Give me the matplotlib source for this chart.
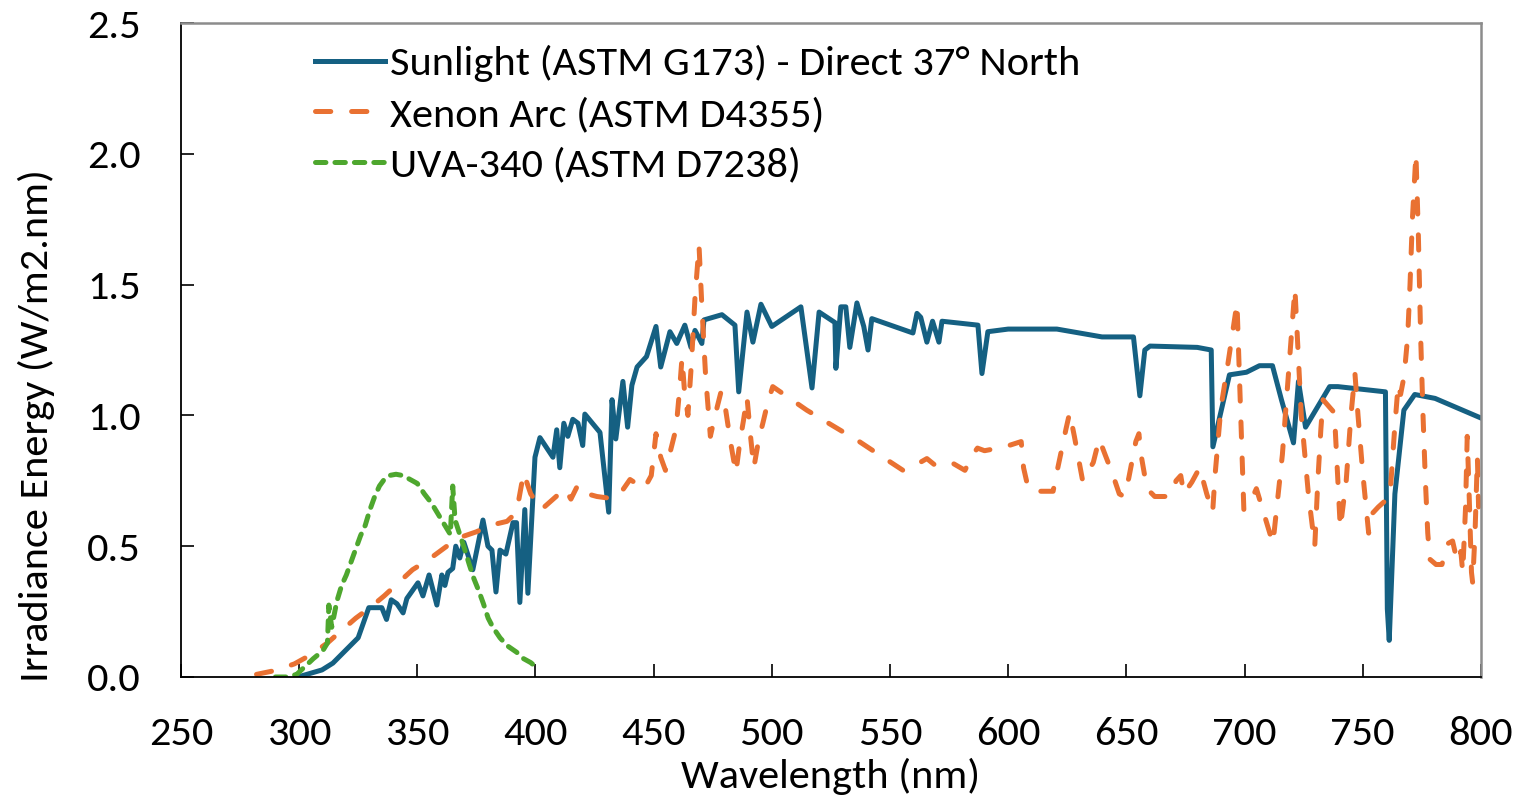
import matplotlib
matplotlib.use('Agg')
import matplotlib.pyplot as plt

plt.rcParams['font.family'] = ['Carlito', 'Lato', 'DejaVu Sans']
plt.rcParams['lines.scale_dashes'] = False

# Sunlight (ASTM G173) - direct, 37 deg North
sun_nm = [299.5, 309.7, 314.3, 325, 329.5, 335, 337, 339, 341.4, 344, 345.6, 350.3, 352.4,
          355, 358.3, 360.4, 361.7, 363, 365, 366.3, 368, 369.7, 373.5, 377.8, 379.9, 381.6,
          383.3, 385, 387.5, 390.5, 392, 393.4, 395.5, 396.8, 399.8, 401.9, 407.4, 409, 410.3,
          412, 413.7, 415.8, 418, 420, 420.9, 427.3, 431, 432.4, 434, 437, 439, 440.8, 443,
          447, 451, 453, 456.9, 459.8, 463.2, 465.8, 467.5, 470.4, 471.3, 478.9, 484.4, 486,
          489.5, 492, 495.4, 500, 512.3, 517, 520, 526.7, 527.1, 529.2, 531.3, 533, 536,
          538.9, 540.7, 542.3, 559.7, 561.4, 563, 565.6, 568, 570.7, 572, 587.2, 588.9, 591.4,
          600, 620.6, 639.7, 653, 655.7, 657.8, 660, 680, 685.9, 686.6, 693.6, 700.8, 706.3,
          711.8, 715.6, 720.7, 722.8, 725.8, 736, 739.5, 759.6, 760.4, 761.2, 763.6, 767.4,
          772, 780.6, 800]
sun_val = [0.0, 0.027, 0.053, 0.15, 0.265, 0.265, 0.22, 0.295, 0.28, 0.245, 0.30, 0.36, 0.31,
           0.39, 0.275, 0.39, 0.35, 0.40, 0.415, 0.50, 0.455, 0.515, 0.41, 0.60, 0.50, 0.485,
           0.325, 0.485, 0.47, 0.59, 0.59, 0.285, 0.64, 0.32, 0.84, 0.915, 0.84, 0.945, 0.80,
           0.97, 0.92, 0.985, 0.97, 0.885, 1.005, 0.935, 0.63, 1.06, 0.91, 1.13, 0.955, 1.115,
           1.185, 1.225, 1.34, 1.185, 1.32, 1.275, 1.345, 1.26, 1.325, 1.275, 1.365, 1.385,
           1.345, 1.09, 1.395, 1.28, 1.425, 1.34, 1.415, 1.105, 1.395, 1.355, 1.18, 1.415,
           1.415, 1.26, 1.43, 1.34, 1.25, 1.37, 1.315, 1.39, 1.375, 1.28, 1.36, 1.28, 1.36,
           1.345, 1.16, 1.32, 1.33, 1.33, 1.30, 1.30, 1.075, 1.25, 1.265, 1.26, 1.25, 0.88,
           1.155, 1.165, 1.19, 1.19, 1.06, 0.895, 1.13, 0.955, 1.11, 1.11, 1.09, 0.26, 0.14,
           0.70, 1.02, 1.08, 1.065, 0.99]

# Xenon Arc (ASTM D4355)
xe_nm = [282, 290, 298, 304, 312, 317, 324, 330, 336, 342, 348, 355, 361, 367, 375, 381,
         388, 392, 395, 398, 402.5, 405, 410, 412.5, 415, 418, 422, 426, 430, 435, 440, 446,
         449, 451, 453, 455, 457, 459.5, 461, 462, 463, 464.5, 466, 467.5, 469.2, 470.5, 472,
         474, 476, 478.5, 480.5, 482.5, 484.8, 486.5, 488, 489.5, 491, 492.4, 494.5, 496.2,
         498.3, 500.4, 514.8, 537, 542, 555.5, 562.7, 565.6, 569, 576, 581.7, 585, 587,
         590, 598.6, 605.5, 606.5, 608.5, 612, 619, 621, 624.5, 626, 628, 631.5, 636, 638.5,
         641, 644, 647, 649, 651, 654, 655.3, 656.2, 658.7, 662, 667, 669.5, 671, 673,
         674.3, 677.7, 681, 684, 686.5, 687.5, 690, 693, 696.8, 699.7, 703, 705, 708, 712,
         716, 721.3, 724, 727, 729.7, 731, 732.3, 733.2, 738, 740.5, 743, 745, 746.7, 748,
         750, 752.5, 753.5, 756.6, 761.5, 763.5, 765, 766, 767.5, 769, 770, 771, 772.5,
         773.5, 774.5, 775.5, 776.5, 777.5, 778.4, 781, 783.5, 786, 788, 790, 791.5, 792.3,
         793.5, 794.2, 795, 796, 796.5, 797.5, 798.5, 799, 800]
xe_val = [0.01, 0.025, 0.05, 0.08, 0.13, 0.17, 0.225, 0.265, 0.31, 0.36, 0.41, 0.45, 0.49,
          0.53, 0.555, 0.58, 0.595, 0.63, 0.78, 0.70, 0.64, 0.66, 0.70, 0.72, 0.68, 0.735,
          0.70, 0.69, 0.685, 0.69, 0.755, 0.72, 0.77, 0.93, 0.84, 0.79, 0.86, 0.95, 1.10,
          1.22, 1.10, 1.0, 1.2, 1.45, 1.65, 1.40, 1.15, 0.92, 1.0, 1.09, 1.02, 0.90, 0.78,
          0.90, 0.98, 1.07, 0.92, 0.80, 0.91, 0.97, 1.05, 1.11, 1.02, 0.90, 0.87, 0.79, 0.82,
          0.835, 0.81, 0.82, 0.79, 0.85, 0.875, 0.865, 0.88, 0.90, 0.80, 0.72, 0.71, 0.71,
          0.80, 0.95, 1.01, 0.92, 0.75, 0.82, 0.91, 0.85, 0.78, 0.70, 0.69, 0.76, 0.90, 0.93,
          0.85, 0.72, 0.69, 0.69, 0.70, 0.75, 0.77, 0.70, 0.745, 0.80, 0.70, 0.63, 0.77, 1.03,
          1.20, 1.43, 0.64, 0.68, 0.72, 0.63, 0.51, 0.85, 1.485, 1.0, 0.70, 0.50, 0.75, 0.95,
          1.06, 1.01, 0.57, 0.75, 1.0, 1.16, 1.0, 0.78, 0.55, 0.62, 0.65, 0.69, 0.95, 1.12,
          1.08, 1.15, 1.3, 1.5, 1.75, 2.0, 1.7, 1.3, 1.0, 0.75, 0.55, 0.45, 0.43, 0.43, 0.51,
          0.52, 0.44, 0.48, 0.40, 0.65, 0.92, 0.70, 0.40, 0.36, 0.55, 0.84, 0.65, 0.72]

# UVA-340 (ASTM D7238)
uva_nm = [290, 295, 299, 302.5, 306, 310, 312, 312.6, 313.8, 316, 318, 320, 322, 324, 326,
          328, 330, 332, 334, 336, 338, 341, 344, 347, 350, 353, 356, 359, 362, 364, 365,
          366, 368, 370, 372, 374, 376, 378, 380, 382, 385, 388, 392, 395, 398, 400]
uva_val = [0.0, 0.0, 0.01, 0.04, 0.07, 0.10, 0.13, 0.275, 0.19, 0.29, 0.35, 0.39, 0.44,
           0.49, 0.54, 0.58, 0.64, 0.69, 0.73, 0.755, 0.77, 0.775, 0.77, 0.755, 0.74, 0.70,
           0.665, 0.62, 0.575, 0.545, 0.73, 0.60, 0.545, 0.49, 0.43, 0.375, 0.33, 0.28, 0.225,
           0.19, 0.15, 0.12, 0.095, 0.07, 0.055, 0.04]

x_ticks = [250, 300, 350, 400, 450, 500, 550, 600, 650, 700, 750, 800]
y_ticks = [0.0, 0.5, 1.0, 1.5, 2.0, 2.5]

fs = 30.5
fig = plt.figure(figsize=(15.2, 7.99), dpi=100)
ax = fig.add_axes([0.119, 0.1527, 0.8553, 0.8185])

ax.plot(sun_nm, sun_val, color='#156082', lw=3.6, solid_joinstyle='round',
        label='Sunlight (ASTM G173) - Direct 37° North')
ax.plot(xe_nm, xe_val, color='#E97132', lw=3.6, ls=(0, (11, 15)), dash_capstyle='round',
        label='Xenon Arc (ASTM D4355)')
ax.plot(uva_nm, uva_val, color='#4EA72E', lw=3.6, ls=(0, (7.5, 6.5)), dash_capstyle='round',
        label='UVA-340 (ASTM D7238)')

ax.set_xlim(250, 800)
ax.set_ylim(0, 2.5)
ax.set_xticks(x_ticks)
ax.set_yticks(y_ticks)
ax.set_yticklabels([f'{v:.1f}' for v in y_ticks])
ax.tick_params(direction='in', length=9.5, width=1.2, labelsize=fs, colors='black')
ax.tick_params(axis='x', pad=28)
ax.tick_params(axis='y', pad=29)

for s in ['left', 'bottom']:
    ax.spines[s].set_color('black')
    ax.spines[s].set_linewidth(1.3)
for s in ['top', 'right']:
    ax.spines[s].set_color('#8c8c8c')
    ax.spines[s].set_linewidth(1.8)

ax.set_xlabel('Wavelength (nm)', fontsize=fs)
ax.set_ylabel('Irradiance Energy (W/m2.nm)', fontsize=fs)
ax.xaxis.set_label_coords(0.5, -0.123)
ax.yaxis.set_label_coords(-0.097, 0.385)

ax.legend(loc='upper left', bbox_to_anchor=(0.103, 0.966), frameon=False, fontsize=fs,
          handlelength=1.65, handletextpad=0.12, labelspacing=0.33, borderpad=0,
          borderaxespad=0)

fig.savefig('out.png')
